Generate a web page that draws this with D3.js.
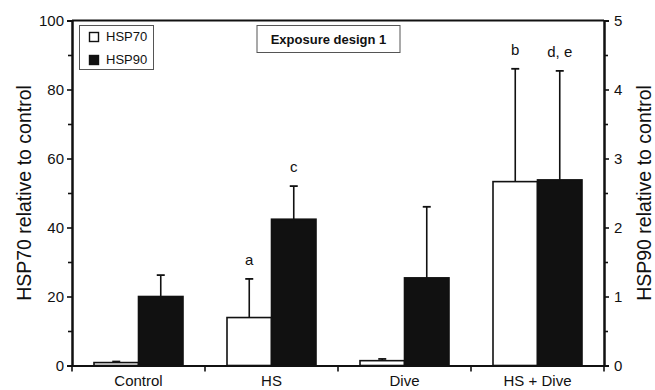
<!DOCTYPE html>
<html>
<head>
  <meta charset="UTF-8">
  <title>Exposure design 1</title>
  <script src="https://cdn.jsdelivr.net/npm/d3@7"></script>
  <style>
    body { margin: 0; background: #fff; }
    svg text { font-family: "Liberation Sans", Arial, Helvetica, sans-serif; fill: #111; }
  </style>
</head>
<body>
<svg id="chart" width="655" height="390"></svg>
<script>
// data
const categories = ['Control', 'HS', 'Dive', 'HS + Dive'];
const series = ['HSP70', 'HSP90'];
// HSP70 on the left axis (0-100)
const hsp70 = [0.85, 13.9, 1.4, 53.3];
const hsp70Err = [1.15, 25.1, 1.9, 86];
const hsp70Letters = ['', 'a', '', 'b'];
// HSP90 on the right axis (0-5)
const hsp90 = [1.0, 2.12, 1.27, 2.69];
const hsp90Err = [1.31, 2.6, 2.3, 4.27];
const hsp90Letters = ['', 'c', '', 'd, e'];

const leftTicks = [0, 20, 40, 60, 80, 100];
const leftMinor = [10, 30, 50, 70, 90];
const rightTicks = [0, 1, 2, 3, 4, 5];
const rightMinor = [0.5, 1.5, 2.5, 3.5, 4.5];

const svg = d3.select('#chart');
const m = { left: 72, right: 604, top: 20.5, bottom: 365.5 };

const x0 = d3.scaleBand().domain(categories).range([m.left, m.right]).padding(0);
const x1 = d3.scaleBand().domain(series).range([22, x0.bandwidth() - 22]).padding(0);
const yL = d3.scaleLinear().domain([0, 100]).range([m.bottom, m.top]);
const yR = d3.scaleLinear().domain([0, 5]).range([m.bottom, m.top]);

// bars
const rows = categories.map((c, i) => ({
  cat: c,
  bars: [
    { s: 'HSP70', v: hsp70[i], e: hsp70Err[i], lab: hsp70Letters[i], y: yL, fill: '#fff' },
    { s: 'HSP90', v: hsp90[i], e: hsp90Err[i], lab: hsp90Letters[i], y: yR, fill: '#111' }
  ]
}));

const g = svg.selectAll('g.group').data(rows).enter().append('g')
  .attr('transform', d => `translate(${x0(d.cat)},0)`);

const bar = g.selectAll('g.bar').data(d => d.bars).enter().append('g');

// error bars (upper only)
bar.append('line')
  .attr('x1', d => x1(d.s) + x1.bandwidth() / 2)
  .attr('x2', d => x1(d.s) + x1.bandwidth() / 2)
  .attr('y1', d => d.y(d.v))
  .attr('y2', d => d.y(d.e))
  .attr('stroke', '#111').attr('stroke-width', 1.6);
bar.append('line')
  .attr('x1', d => x1(d.s) + x1.bandwidth() / 2 - 4)
  .attr('x2', d => x1(d.s) + x1.bandwidth() / 2 + 4)
  .attr('y1', d => d.y(d.e))
  .attr('y2', d => d.y(d.e))
  .attr('stroke', '#111').attr('stroke-width', 1.8);

bar.append('rect')
  .attr('x', d => x1(d.s))
  .attr('width', x1.bandwidth())
  .attr('y', d => d.y(d.v))
  .attr('height', d => m.bottom - d.y(d.v))
  .attr('fill', d => d.fill)
  .attr('stroke', '#111').attr('stroke-width', 1.6);

bar.append('text')
  .attr('x', d => x1(d.s) + x1.bandwidth() / 2)
  .attr('y', d => d.y(d.e) - 14)
  .attr('text-anchor', 'middle')
  .style('font-size', '15px')
  .text(d => d.lab);

// axes
svg.append('g').attr('transform', `translate(${m.left},0)`)
  .call(d3.axisLeft(yL).tickValues(leftTicks).tickSize(5).tickPadding(3));
svg.append('g').attr('transform', `translate(${m.left},0)`)
  .call(d3.axisLeft(yL).tickValues(leftMinor).tickSize(4).tickFormat(''));
svg.append('g').attr('transform', `translate(${m.right},0)`)
  .call(d3.axisRight(yR).tickValues(rightTicks).tickSize(5).tickPadding(5).tickFormat(d3.format('d')));
svg.append('g').attr('transform', `translate(${m.right},0)`)
  .call(d3.axisRight(yR).tickValues(rightMinor).tickSize(4).tickFormat(''));
const bottomAxis = svg.append('g').attr('transform', `translate(0,${m.bottom})`)
  .call(d3.axisBottom(x0).tickSize(0).tickPadding(0));

// bottom ticks sit between groups
svg.append('g').selectAll('line')
  .data(categories.concat(['end']))
  .enter().append('line')
  .attr('x1', (d, i) => i < categories.length ? x0(d) : m.right)
  .attr('x2', (d, i) => i < categories.length ? x0(d) : m.right)
  .attr('y1', m.bottom).attr('y2', m.bottom + 6)
  .attr('stroke', '#111').attr('stroke-width', 1.6);

svg.selectAll('.domain').attr('stroke', '#111').attr('stroke-width', 2);
svg.selectAll('.tick line').attr('stroke', '#111').attr('stroke-width', 1.6);
svg.selectAll('.tick text').style('font-size', '15px').attr('fill', '#111');
bottomAxis.selectAll('.tick text').attr('y', 20.5).attr('dy', 0);

// top frame line
svg.append('line')
  .attr('x1', m.left).attr('x2', m.right)
  .attr('y1', m.top).attr('y2', m.top)
  .attr('stroke', '#111').attr('stroke-width', 2);

// axis titles
svg.append('text')
  .attr('transform', `translate(31,${(m.top + m.bottom) / 2}) rotate(-90)`)
  .attr('text-anchor', 'middle')
  .style('font-size', '19.5px')
  .text('HSP70 relative to control');
svg.append('text')
  .attr('transform', `translate(651,${(m.top + m.bottom) / 2}) rotate(-90)`)
  .attr('text-anchor', 'middle')
  .style('font-size', '19.5px')
  .text('HSP90 relative to control');

// legend
const legend = svg.append('g');
legend.append('rect')
  .attr('x', 79.5).attr('y', 25.5).attr('width', 74).attr('height', 44)
  .attr('fill', '#fff').attr('stroke', '#555').attr('stroke-width', 1);
const li = legend.selectAll('g.item').data(series).enter().append('g')
  .attr('transform', (d, i) => `translate(89,${32 + i * 23})`);
li.append('rect')
  .attr('x', 0.5).attr('y', 0.5).attr('width', 9).attr('height', 9)
  .attr('fill', (d, i) => i === 0 ? '#fff' : '#111')
  .attr('stroke', '#111').attr('stroke-width', 1.4);
li.append('text')
  .attr('x', 17).attr('y', 8.5)
  .style('font-size', '13px')
  .text(d => d);

// title box
svg.append('rect')
  .attr('x', 257).attr('y', 25.5).attr('width', 143).attr('height', 27)
  .attr('fill', '#fff').attr('stroke', '#555').attr('stroke-width', 1);
svg.append('text')
  .attr('x', 328.5).attr('y', 43.5)
  .attr('text-anchor', 'middle')
  .style('font-size', '13px').style('font-weight', 'bold')
  .text('Exposure design 1');
</script>
</body>
</html>
